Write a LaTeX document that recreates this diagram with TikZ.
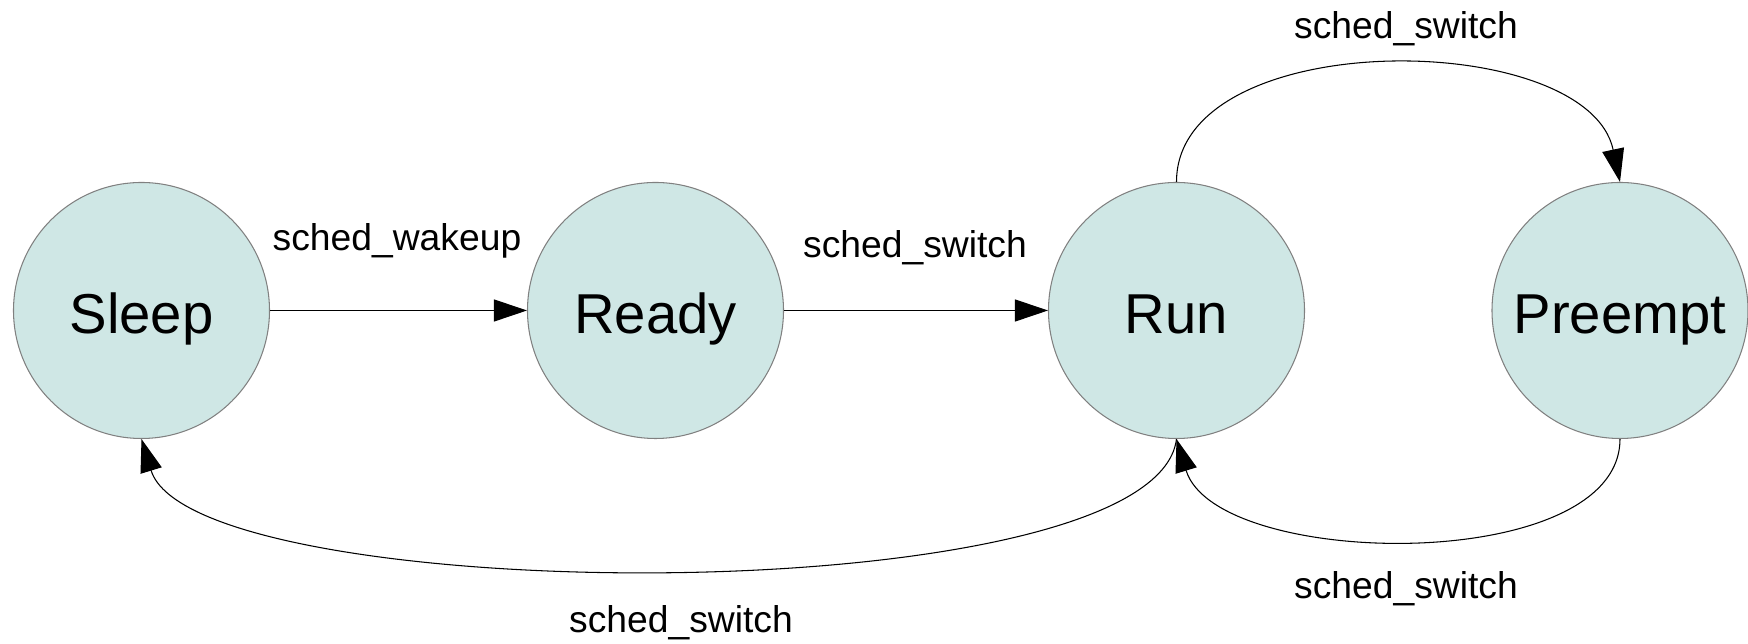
\documentclass[tikz,border=0pt]{standalone}
\usepackage{fontspec}
\setmainfont{Liberation Sans}
\usepackage{tikz}
\usetikzlibrary{arrows.meta}
\definecolor{statefill}{RGB}{207,231,229}
\definecolor{stateline}{RGB}{128,128,128}

\begin{document}
\begin{tikzpicture}[
	state/.style={circle, draw=stateline, fill=statefill, line width=0.3pt,
		minimum size=2.56cm, inner sep=0pt, font=\fontsize{16}{19}\selectfont,
		text height=1.5em, text depth=0.2em},
	trans/.style={line width=0.3pt, -{Triangle[length=0.33cm,width=0.22cm]}},
	lbl/.style={anchor=base, inner sep=0pt, font=\fontsize{10.6}{13}\selectfont}]
	\useasboundingbox (0,0) rectangle (17.48,6.44);
	
	%states
	\node[state] (sleep) at (1.415,3.335)  {Sleep};
	\node[state] (ready) at (6.555,3.335)  {Ready};
	\node[state] (run)   at (11.765,3.335) {Run};
	\node[state] (pre)   at (16.2,3.335)   {Preempt};
	
	%transitions
	\draw[trans] (sleep) -- (ready);
	\draw[trans] (ready) -- (run);
	\draw[trans] (run.north) to[out=90,in=102,looseness=0.91] (pre.north);	%run--preempt
	\draw[trans] (pre.south) to[out=-90,in=-73,looseness=0.79] (run.south);	%preempt--run
	\draw[trans] (run.south) to[out=-97,in=-73,looseness=0.44] (sleep.south);	%run--sleep
	
	%labels
	\node[lbl] (wake)  at (3.97,3.93)   {sched\_wakeup};
	\node[lbl] (swA)   at (9.15,3.865)  {sched\_switch};
	\node[lbl] (swB)   at (14.06,6.057) {sched\_switch};
	\node[lbl] (swC)   at (14.06,0.457) {sched\_switch};
	\node[lbl] (swD)   at (6.81,0.11)   {sched\_switch};
\end{tikzpicture}
\end{document}
